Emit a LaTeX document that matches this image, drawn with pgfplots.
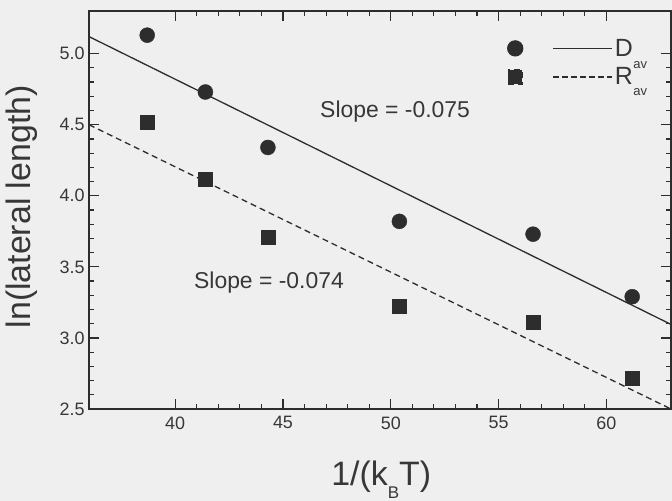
\documentclass[border=0pt]{standalone}
\usepackage{pgfplots}
\pgfplotsset{compat=1.18}
\usepackage{fontspec}
\setmainfont{Liberation Sans}
\definecolor{bg}{RGB}{239,239,239}
\definecolor{ink}{RGB}{45,45,45}
\definecolor{txt}{RGB}{55,55,55}
\pagecolor{bg}
\begin{document}
\begin{tikzpicture}
\begin{axis}[
  scale only axis,
  width=582bp, height=398bp,
  xmin=36, xmax=63, ymin=2.5, ymax=5.3,
  xtick={40,45,50,55,60}, ytick={2.5,3.0,3.5,4.0,4.5,5.0},
  minor x tick num=4, minor y tick num=4,
  tick align=inside,
  major tick length=10pt, minor tick length=5pt,
  tick style={ink, line width=1.2pt},
  axis line style={ink, line width=1.4bp},
  /pgf/number format/assume math mode=true,
  yticklabel style={xshift=-1bp, /pgf/number format/fixed, /pgf/number format/fixed zerofill, /pgf/number format/precision=1},
  ticklabel style={font=\fontsize{18}{18}\selectfont, text=txt},
  xticklabel style={yshift=-4bp},
  every axis x label/.style={at={(axis description cs:0.502,-0.191)}, anchor=base},
  every axis y label/.style={at={(axis description cs:-0.116,0.508)}, rotate=90, anchor=center},
  xlabel={1/(k\smash{\raisebox{-13bp}{\fontsize{17}{17}\selectfont B}}T)},
  ylabel={ln(lateral length)},
  label style={font=\fontsize{34}{34}\selectfont, text=txt},
  legend style={draw=none, fill=none, at={(rel axis cs:0.718,0.935)}, anchor=north west,
    font=\fontsize{25}{25}\selectfont, text=txt, row sep=6bp, inner sep=0pt,
    nodes={inner xsep=2bp, inner ysep=2bp}},
  legend cell align=left,
]
\coordinate (bl) at (rel axis cs:0,0);
\coordinate (tr) at (rel axis cs:1,1);
% data
\addplot[only marks, mark=*, mark size=7.5bp, ink, forget plot] coordinates {
  (38.7,5.13) (41.4,4.73) (44.3,4.34) (50.4,3.82) (56.6,3.73) (61.2,3.29)};
\addplot[only marks, mark=square*, mark size=7bp, ink, forget plot] coordinates {
  (38.7,4.52) (41.4,4.12) (44.3,3.71) (50.4,3.22) (56.6,3.11) (61.2,2.72)};
% fits
\addplot[ink, line width=1.3bp, legend image code/.code={
    \fill[ink] (0,0) circle (7.5bp);
    \draw[ink, line width=1.2bp, solid] (38bp,0) -- (97bp,0);}]
  coordinates {(36,5.12) (63,3.095)};
\addlegendentry{D}
\addplot[ink, line width=1.3bp, dash pattern=on 6bp off 4bp, legend image code/.code={
    \fill[ink] (-7bp,-7bp) rectangle (7bp,7bp);
    \draw[ink, line width=1.2bp, dash pattern=on 6bp off 3bp] (38bp,0) -- (97bp,0);}]
  coordinates {(36,4.50) (63,2.50)};
\addlegendentry{R}
\node[font=\fontsize{13}{13}\selectfont, text=txt, anchor=center, inner sep=0pt] at (rel axis cs:0.947,0.864) {av};
\node[font=\fontsize{13}{13}\selectfont, text=txt, anchor=center, inner sep=0pt] at (rel axis cs:0.947,0.796) {av};
\node[font=\fontsize{23}{23}\selectfont, text=txt, anchor=base] at (axis cs:50.2,4.55) {Slope = -0.075};
\node[font=\fontsize{23}{23}\selectfont, text=txt, anchor=base] at (axis cs:44.35,3.35) {Slope = -0.074};
\end{axis}
\pgfresetboundingbox
\path ([shift={(-89bp,-92bp)}]bl) rectangle ([shift={(1bp,11bp)}]tr);
\end{tikzpicture}
\end{document}
